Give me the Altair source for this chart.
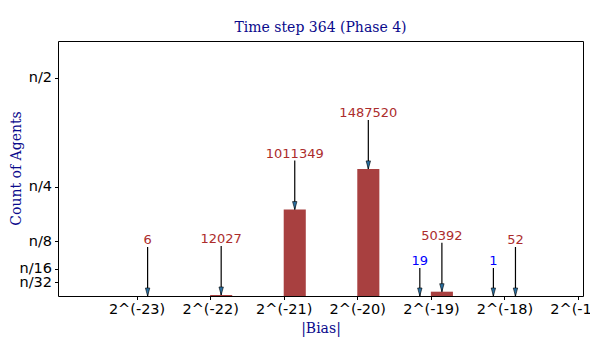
import altair as alt
import pandas as pd

# ---- data ----
N_AGENTS = 5110000                      # n (estimated from bar heights vs. n/4 tick)
bins = [-23, -22, -21, -20, -19, -18]   # log2 |bias| bin starts
counts = [6, 12027, 1011349, 1487520, 50392, 52]
neg_bins = [-19, -18]                   # blue annotated bins
neg_counts = [19, 1]
x_ticks = [-23, -22, -21, -20, -19, -18, -17]
y_divs = [32, 16, 8, 4, 2]              # tick labels n/k
title_text = "Time step 364 (Phase 4)"

BAR_W = 0.3
RED = "#A84040"
RED_TXT = "#AC2C2C"
BLUE = "#0000FF"
NAVY = "#0a0a8c"

bars_df = pd.DataFrame({"bin": bins, "count": counts})
bars_df["bin_end"] = bars_df["bin"] + BAR_W
bars_df["mid"] = bars_df["bin"] + BAR_W / 2
bars_df["label"] = bars_df["count"].astype(str)

neg_df = pd.DataFrame({"bin": neg_bins, "count": neg_counts})
neg_df["mid"] = neg_df["bin"] - BAR_W / 2
neg_df["label"] = neg_df["count"].astype(str)

y_tick_vals = [N_AGENTS / k for k in y_divs]

xscale = alt.Scale(domain=[-24, -17], nice=False, zero=False)
yscale = alt.Scale(domain=[0, 0.584 * N_AGENTS], nice=False, zero=True)

xaxis = alt.Axis(
    title="|Bias|", values=x_ticks, labelExpr="'2^(' + datum.value + ')'",
    grid=False, domain=False, tickSize=3.5, tickColor="black", labelPadding=3,
    labelFont="DejaVu Sans", labelFontSize=14.5, labelColor="black",
    labelOverlap=False, labelFlush=False,
    titleFont="DejaVu Serif", titleFontSize=14, titleColor=NAVY,
    titleFontWeight="normal", titleBaseline="middle", titleY=32,
)
yaxis = alt.Axis(
    title="Count of Agents", values=y_tick_vals,
    labelExpr="'n/' + round(%d / datum.value)" % N_AGENTS,
    grid=False, domain=False, tickSize=3.5, tickColor="black", labelPadding=3,
    labelFont="DejaVu Sans", labelFontSize=14.5, labelColor="black",
    labelOverlap=False, labelFlush=False,
    titleFont="DejaVu Serif", titleFontSize=14, titleColor=NAVY,
    titleFontWeight="normal", titleAngle=270, titleBaseline="middle",
    titleX=-42, titleY=127,
)

X_bar = alt.X("bin:Q", scale=xscale, axis=xaxis)
Y_cnt = alt.Y("count:Q", scale=yscale, axis=yaxis)

bars = alt.Chart(bars_df).mark_bar(color=RED, orient="vertical").encode(
    x=X_bar, x2="bin_end:Q", y=Y_cnt, y2=alt.datum(0)
)

ARROW = "M-0.55,-1L0.55,-1L0,1Z"

def annot(df, color, shaft, text_dy):
    base = alt.Chart(df)
    X_mid = alt.X("mid:Q", scale=xscale, axis=xaxis)
    shaft_l = base.mark_rule(color="black", strokeWidth=1.2, y2Offset=-shaft).encode(
        x=X_mid, y=Y_cnt, y2="count:Q"
    )
    head = base.mark_point(
        shape=ARROW, size=64, filled=True, fill="#2a6fa0", stroke="black",
        strokeWidth=0.6, opacity=1, yOffset=-4,
    ).encode(x=X_mid, y=Y_cnt)
    txt = base.mark_text(
        font="DejaVu Sans", fontSize=13, color=color, dy=text_dy,
        baseline="middle", align="center",
    ).encode(x=X_mid, y=Y_cnt, text="label:N")
    return [shaft_l, head, txt]

layers = [bars] + annot(bars_df, RED_TXT, 49, -56) + annot(neg_df, BLUE, 28, -35)

chart = alt.layer(*layers).properties(
    width=525, height=255,
    title=alt.TitleParams(
        title_text, font="DejaVu Serif", fontSize=14, color=NAVY,
        fontWeight="normal", offset=6, anchor="middle",
    ),
    autosize=alt.AutoSizeParams(type="none"),
    padding={"left": 50, "top": 33, "right": 7, "bottom": 43},
).configure_view(stroke="black", strokeWidth=1)

chart.save("out.html", embed_options={"renderer": "svg", "actions": False})
